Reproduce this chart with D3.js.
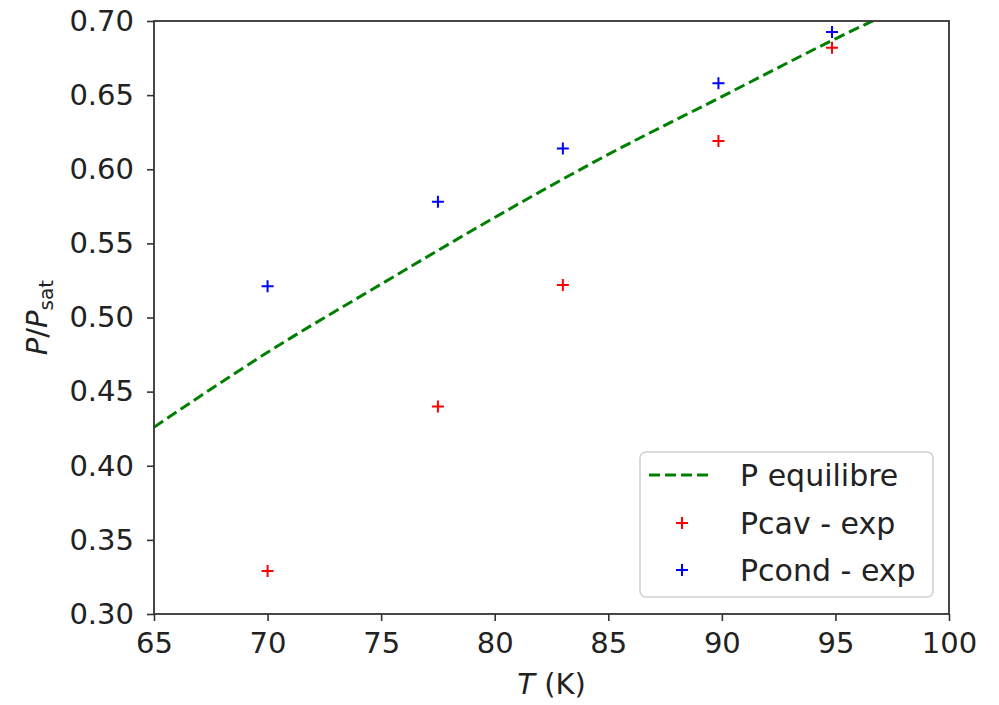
<!DOCTYPE html>
<html>
<head>
<meta charset="utf-8">
<script src="https://cdn.jsdelivr.net/npm/d3@7"></script>
<style>
  html, body { margin: 0; padding: 0; background: #fff; }
  #main { width: 999px; height: 705px; }
  text { font-family: "DejaVu Sans", sans-serif; }
</style>
</head>
<body>
<div id="main"></div>
<script>
// data
const tempCav = [70.0, 77.5, 83.0, 89.85, 94.85];
const pCav = [0.329, 0.440, 0.522, 0.619, 0.682];
const tempCond = [70.0, 77.5, 83.0, 89.85, 94.85];
const pCond = [0.521, 0.578, 0.614, 0.658, 0.6925];
const tempEq = [65, 70, 75, 80, 85, 90, 95, 100];
const pEq = [0.426, 0.4765, 0.5225, 0.5675, 0.610, 0.649, 0.688, 0.724];
const xTicks = [65, 70, 75, 80, 85, 90, 95, 100];
const yTicks = [0.30, 0.35, 0.40, 0.45, 0.50, 0.55, 0.60, 0.65, 0.70];
const legendLabels = ["P equilibre", "Pcav - exp", "Pcond - exp"];

function createChart() {
    d3.select("#main svg").remove();

    const width = 999, height = 705;
    const margin = { top: 21, right: 50, bottom: 91, left: 154 };
    const iw = width - margin.left - margin.right;
    const ih = height - margin.top - margin.bottom;

    const svg = d3.select("#main").append("svg")
        .attr("width", width)
        .attr("height", height);

    const x = d3.scaleLinear().domain([65, 100]).range([0, iw]);
    const y = d3.scaleLinear().domain([0.30, 0.70]).range([ih, 0]);

    const g = svg.append("g")
        .attr("transform", `translate(${margin.left},${margin.top})`);

    svg.append("defs").append("clipPath").attr("id", "clip")
        .append("rect").attr("width", iw).attr("height", ih);

    // equilibrium curve
    const eq = tempEq.map((t, i) => [t, pEq[i]]);
    g.append("path")
        .datum(eq)
        .attr("clip-path", "url(#clip)")
        .attr("fill", "none")
        .attr("stroke", "#008000")
        .attr("stroke-width", 3)
        .attr("stroke-dasharray", "11,5")
        .attr("d", d3.line().curve(d3.curveMonotoneX).x(d => x(d[0])).y(d => y(d[1])));

    // plus markers
    function plus(sel, color) {
        sel.append("path")
            .attr("d", "M-6,0H6M0,-6V6")
            .attr("stroke", color)
            .attr("stroke-width", 2)
            .attr("fill", "none");
    }
    const cav = tempCav.map((t, i) => [t, pCav[i]]);
    const cond = tempCond.map((t, i) => [t, pCond[i]]);
    g.selectAll(".cav").data(cav).enter().append("g")
        .attr("transform", d => `translate(${x(d[0])},${y(d[1])})`)
        .call(plus, "#ff0000");
    g.selectAll(".cond").data(cond).enter().append("g")
        .attr("transform", d => `translate(${x(d[0])},${y(d[1])})`)
        .call(plus, "#0000ff");

    // axes
    const xAxis = g.append("g")
        .attr("transform", `translate(0,${ih})`)
        .call(d3.axisBottom(x).tickValues(xTicks).tickSize(7).tickPadding(11).tickFormat(d3.format("d")));
    const yAxis = g.append("g")
        .call(d3.axisLeft(y).tickValues(yTicks).tickSize(7).tickPadding(13).tickFormat(d3.format(".2f")));
    [xAxis, yAxis].forEach(a => {
        a.select(".domain").remove();
        a.selectAll("line").attr("stroke", "#333").attr("stroke-width", 1.6);
        a.selectAll("text").attr("fill", "#222").style("font-size", "29px")
            .style("font-family", "'DejaVu Sans', sans-serif");
    });

    // frame
    g.append("rect")
        .attr("width", iw).attr("height", ih)
        .attr("fill", "none")
        .attr("stroke", "#333")
        .attr("stroke-width", 1.8);

    // axis labels
    const xl = svg.append("text")
        .attr("x", margin.left + iw / 2)
        .attr("y", 694)
        .attr("text-anchor", "middle")
        .style("font-size", "29px")
        .attr("fill", "#222");
    xl.append("tspan").style("font-style", "italic").text("T");
    xl.append("tspan").text(" (K)");

    const yl = svg.append("text")
        .attr("transform", `translate(47,${margin.top + ih / 2}) rotate(-90)`)
        .attr("text-anchor", "middle")
        .style("font-size", "29px")
        .attr("fill", "#222");
    yl.append("tspan").style("font-style", "italic").text("P");
    yl.append("tspan").text("/");
    yl.append("tspan").style("font-style", "italic").text("P");
    yl.append("tspan").attr("dy", 6).style("font-size", "20px").text("sat");

    // legend
    const lg = svg.append("g");
    lg.append("rect")
        .attr("x", 640).attr("y", 452)
        .attr("width", 293).attr("height", 145)
        .attr("rx", 6)
        .attr("fill", "#fff").attr("fill-opacity", 0.8)
        .attr("stroke", "#d0d0d0").attr("stroke-width", 1.5);
    const rowY = [475, 523, 570];
    lg.append("line")
        .attr("x1", 649).attr("x2", 713)
        .attr("y1", rowY[0]).attr("y2", rowY[0])
        .attr("stroke", "#008000").attr("stroke-width", 3)
        .attr("stroke-dasharray", "11,5");
    lg.append("g").attr("transform", `translate(682,${rowY[1]})`).call(plus, "#ff0000");
    lg.append("g").attr("transform", `translate(682,${rowY[2]})`).call(plus, "#0000ff");
    lg.selectAll(".lab").data(legendLabels).enter().append("text")
        .attr("x", 740)
        .attr("y", (d, i) => rowY[i])
        .attr("dy", "0.35em")
        .style("font-size", "30px")
        .attr("fill", "#222")
        .text(d => d);
}

document.addEventListener("DOMContentLoaded", createChart);
</script>
</body>
</html>
